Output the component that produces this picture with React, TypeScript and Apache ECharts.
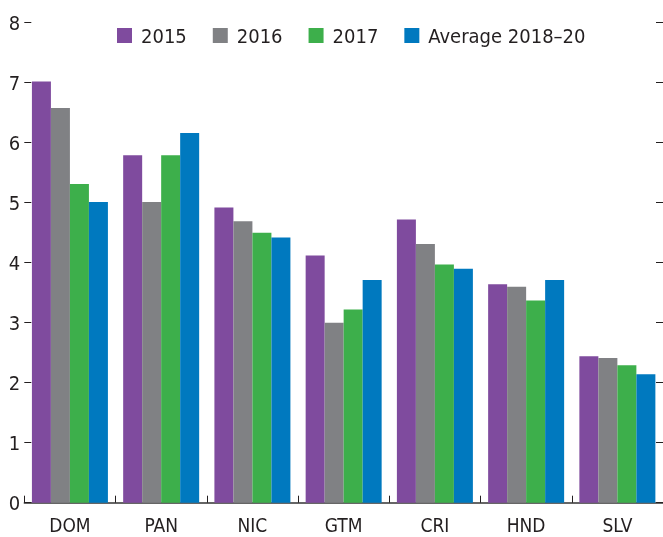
import React, { useEffect, useRef } from "react";
import * as echarts from "echarts";

const categories = ["DOM", "PAN", "NIC", "GTM", "CRI", "HND", "SLV"];
const seriesNames = ["2015", "2016", "2017", "Average 2018–20"];
const values2015 = [7.02, 5.79, 4.92, 4.12, 4.72, 3.64, 2.44];
const values2016 = [6.58, 5.01, 4.69, 3.0, 4.31, 3.6, 2.41];
const values2017 = [5.31, 5.79, 4.5, 3.22, 3.97, 3.37, 2.29];
const valuesAvg = [5.01, 6.16, 4.42, 3.71, 3.9, 3.71, 2.14];
const colors = ["#7f4b9e", "#808184", "#3daf4b", "#0079bf"];

const FONT = "'Liberation Sans Narrow', 'Arial Narrow', 'DejaVu Sans Condensed', sans-serif";
const TEXT = "#231f20";
const TICK = "#231f20";

export default function App() {
  const ref = useRef<HTMLDivElement>(null);
  useEffect(() => {
    if (!ref.current) return;
    const chart = echarts.init(ref.current, undefined, { renderer: "svg" });
    const data = [values2015, values2016, values2017, valuesAvg];
    chart.setOption({
      animation: false,
      color: colors,
      textStyle: { fontFamily: FONT, color: TEXT },
      legend: {
        top: 25,
        left: 117,
        padding: 0,
        itemWidth: 15,
        itemHeight: 15,
        itemGap: 26,
        icon: "rect",
        textStyle: { fontFamily: FONT, fontSize: 20, color: TEXT, lineHeight: 21, padding: [0, 0, 0, 4] },
        data: seriesNames,
      },
      grid: { left: 24.3, right: -1.5, top: 22.7, bottom: 34.3, containLabel: false },
      xAxis: {
        type: "category",
        data: categories,
        axisLine: { show: true, lineStyle: { color: "#333", width: 1.5 } },
        axisTick: { show: true, inside: true, length: 7, lineStyle: { color: TICK, width: 1 } },
        axisLabel: { fontFamily: FONT, fontSize: 19, color: TEXT, margin: 14, lineHeight: 16 },
        splitLine: { show: false },
      },
      yAxis: [
        {
          type: "value",
          min: 0,
          max: 8,
          interval: 1,
          position: "left",
          axisLine: { show: false },
          axisTick: { show: true, inside: true, length: 7, lineStyle: { color: TICK, width: 1 } },
          axisLabel: { fontFamily: FONT, fontSize: 20, color: TEXT, margin: 4 },
          splitLine: { show: false },
        },
        {
          type: "value",
          min: 0,
          max: 8,
          interval: 1,
          position: "right",
          axisLine: { show: false },
          axisTick: { show: true, inside: true, length: 7, lineStyle: { color: TICK, width: 1 } },
          axisLabel: { show: false },
          splitLine: { show: false },
        },
      ],
      series: seriesNames.map((name, i) => ({
        name,
        type: "bar",
        data: data[i],
        barWidth: 19,
        barGap: "0%",
        itemStyle: { color: colors[i] },
      })),
    });
    return () => chart.dispose();
  }, []);
  return (
    <div
      ref={ref}
      style={{ position: "fixed", left: 0, top: 0, width: 663, height: 537 }}
    />
  );
}
